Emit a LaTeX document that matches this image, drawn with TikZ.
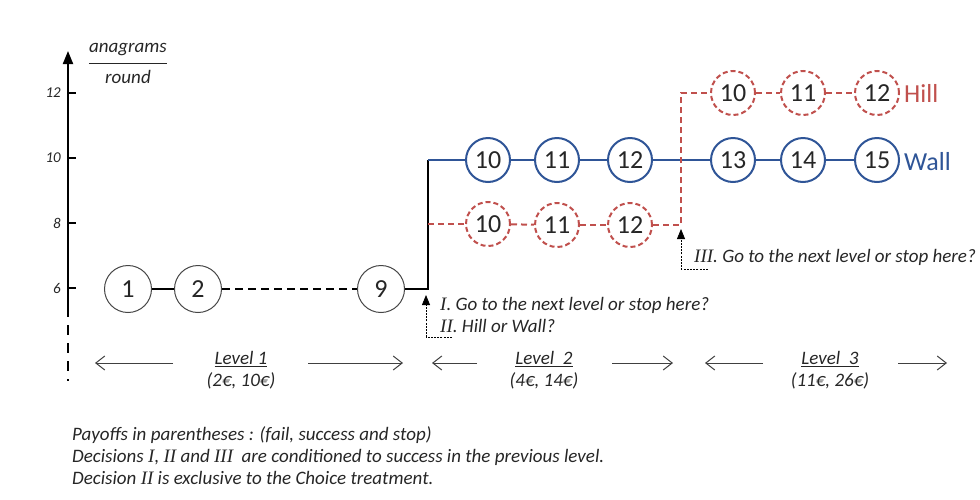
\documentclass[tikz,border=0pt]{standalone}
\usepackage{fontspec}
\setmainfont{Carlito}
\newfontfamily\romfont{Liberation Serif}
\usetikzlibrary{arrows.meta}
\definecolor{wallblue}{RGB}{47,85,151}
\definecolor{hillred}{RGB}{192,80,77}
\definecolor{circgray}{RGB}{70,70,70}
\definecolor{txtgray}{RGB}{38,38,38}
\newcommand{\rom}[1]{{\romfont\itshape #1}}
\tikzset{
    mynode/.style = {circle, draw=circgray, line width=1pt, minimum size=47pt, inner sep=0pt, text=txtgray, font=\fontsize{26}{26}\selectfont},
    mynodeb/.style = {circle, draw=wallblue, line width=2pt, minimum size=44pt, inner sep=0pt, text=txtgray, font=\fontsize{26}{26}\selectfont},
    mynoder/.style = {circle, draw=hillred, line width=2pt, dash pattern=on 5pt off 3pt, minimum size=44pt, inner sep=0pt, text=txtgray, font=\fontsize{26}{26}\selectfont},
    tag/.style = {anchor=west, inner sep=0pt, font=\fontsize{26}{26}\selectfont},
    txt/.style = {inner sep=0pt, text=txtgray, font=\fontsize{19}{22}\selectfont\itshape},
    edgen/.style = {line width=2pt, black},
    edgent/.style = {line width=1.3pt, black},
    edgend/.style = {line width=2pt, black, dash pattern=on 8pt off 5pt},
    edgeb/.style = {line width=2pt, wallblue},
    edger/.style = {line width=2pt, hillred, dash pattern=on 6pt off 4pt},
    edgexd/.style = {-{Triangle[length=10pt,width=8pt]}, line width=0.8pt, dash pattern=on 2pt off 1.2pt}, % decision
    edgel/.style = {-{Straight Barb[length=9pt,width=14pt]}, line width=1pt, black!75}, % level
    axisn/.style = {-{Triangle[length=13pt,width=10pt]}, line width=2pt, black}
}
\begin{document}
\begin{tikzpicture}[x=1pt,y=-1pt]
\path[use as bounding box] (0,0) rectangle (980,499);
%
% axis
\coordinate (ax0) at (68,381);
\coordinate (ax1) at (68,307);
\coordinate (ax2) at (68,51);
\draw[edgend, line width=2.5pt, dash pattern=on 10pt off 8pt] (ax1) -- (ax0);
\draw[axisn] (ax1) -- (ax2);
\foreach \y/\l in {93/12, 158/10, 223/8, 288/6} {
  \draw[line width=1.5pt] (68,\y) -- (76,\y);
  \node[txt, anchor=east, font=\fontsize{15}{15}\selectfont\itshape] at (61,\y) {\l};
}
\node[txt] (ana) at (128,50) {anagrams};
\node[txt] (rnd) at (128,77) {round};
\draw[line width=1pt, txtgray] ([yshift=-7pt]ana.south west) -- ([yshift=-7pt]ana.south east);
%
% level 1
\node[mynode] at (128,289) (n1) {1};
\node[mynode] at (198,289) (n2) {2};
\node[mynode] at (381,289) (n9) {9};
\coordinate (c9) at (428,289);
\coordinate (c10) at (428,160);
\coordinate (c8) at (428,224);
%
% level 2 and 3, wall
\node[mynodeb] at (488,160) (w10) {10};
\node[mynodeb] at (557,160) (w11) {11};
\node[mynodeb] at (630,160) (w12) {12};
\node[mynodeb] at (733,160) (w13) {13};
\node[mynodeb] at (803,160) (w14) {14};
\node[mynodeb] at (877,160) (w15) {15};
\node[tag, text=wallblue] at (904,162) (wall) {Wall};
%
% level 2 and 3, hill
\node[mynoder] at (488,224) (h10) {10};
\node[mynoder] at (557,225) (h11) {11};
\node[mynoder] at (630,225) (h12) {12};
\coordinate (d8) at (681,225);
\coordinate (d12) at (681,93);
\node[mynoder] at (733,93) (hh10) {10};
\node[mynoder] at (803,93) (hh11) {11};
\node[mynoder] at (877,93) (hh12) {12};
\node[tag, text=hillred] at (904,93) (hill) {Hill};
%
\draw[edgent] (n1) -- (n2);
\draw[edgend] (n2) -- (n9);
\draw[edgen] (n9) -- (c9) -- (c10);
\draw[edgeb] (c10) -- (w10);
\draw[edgeb] (w10) -- (w11);
\draw[edgeb] (w11) -- (w12);
\draw[edgeb] (w12) -- (w13);
\draw[edgeb] (w13) -- (w14);
\draw[edgeb] (w14) -- (w15);
\draw[edger] (c8) -- (h10);
\draw[edger] (h10) -- (h11);
\draw[edger] (h11) -- (h12);
\draw[edger] (h12) -- (d8) -- (d12) -- (hh10);
\draw[edger] (hh10) -- (hh11);
\draw[edger] (hh11) -- (hh12);
%
% decisions
\coordinate (dI) at (452,337);
\coordinate (tI) at (426,295);
\draw[edgexd] (dI) -| (tI);
\node[txt, anchor=west] at (440,305) (decI) {\rom{I}. Go to the next level or stop here?};
\node[txt, anchor=west] at (440,326) (decII) {\rom{II}. Hill or Wall?};
\coordinate (dIII) at (708,269);
\coordinate (tIII) at (681,229);
\draw[edgexd] (dIII) -| (tIII);
\node[txt, anchor=west] at (694,257) (decIII) {\rom{III}. Go to the next level or stop here?};
%
% levels
\node[txt, align=center] at (241,370) (lv1) {\underline{Level 1}\\(2€, 10€)};
\node[txt, align=center] at (544,370) (lv2) {\underline{Level\ \ 2}\\(4€, 14€)};
\node[txt, align=center] at (830,370) (lv3) {\underline{Level\ \ 3}\\(11€, 26€)};
\foreach \n/\xa/\xb in {1/173/95, 2/308/403, 3/477/432, 4/612/673, 5/763/705, 6/898/947} {
  \coordinate (s\n) at (\xa,363);
  \coordinate (e\n) at (\xb,363);
  \draw[edgel] (s\n) -- (e\n);
}
%
\node[txt, align=left, anchor=north west] at (72,426) (notes) {Payoffs in parentheses : (fail, success and stop)\\
Decisions \rom{I}, \rom{II} and \rom{III}\ \ are conditioned to success in the previous level.\\
Decision \rom{II} is exclusive to the Choice treatment.};

\end{tikzpicture}
\end{document}
